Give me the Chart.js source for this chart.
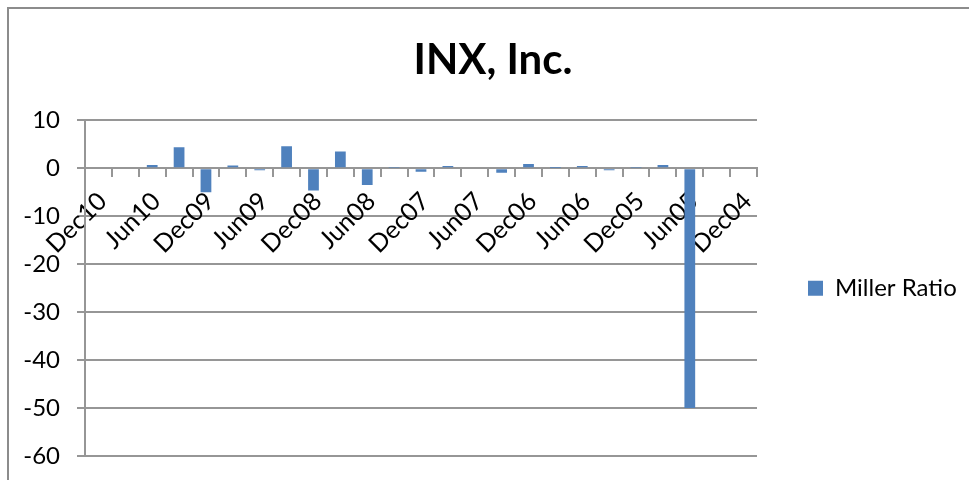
<!DOCTYPE html>
<html>
<head>
<meta charset="utf-8">
<script src="https://cdn.jsdelivr.net/npm/chart.js@4/dist/chart.umd.min.js"></script>
<style>
  html, body { margin: 0; padding: 0; background: #fff; }
  #wrap { width: 969px; height: 480px; position: relative; }
</style>
</head>
<body>
<div id="wrap"><canvas id="c" width="969" height="480"></canvas></div>
<script>
const categories = ['Dec10','Sep10','Jun10','Mar10','Dec09','Sep09','Jun09','Mar09','Dec08','Sep08','Jun08','Mar08','Dec07','Sep07','Jun07','Mar07','Dec06','Sep06','Jun06','Mar06','Dec05','Sep05','Jun05','Mar05','Dec04'];
const millerRatio = [-0.2, 0, 0.7, 4.4, -5.0, 0.6, -0.4, 4.6, -4.6, 3.5, -3.5, 0.1, -0.7, 0.5, 0, -0.9, 0.9, 0.05, 0.5, -0.4, 0.1, 0.7, -50, 0, 0];
const yTicks = { min: -60, max: 10, step: 10 };
const seriesName = 'Miller Ratio';
const titleText = 'INX, Inc.';

const GRID = '#969696';
const FONT = 'Lato, "Open Sans", sans-serif';
const LEGEND_WIDTH = 211;

const framePlugin = {
  id: 'frame',
  beforeDraw(chart) {
    const ctx = chart.ctx;
    ctx.save();
    ctx.fillStyle = '#fff';
    ctx.fillRect(0, 0, chart.width, chart.height);
    ctx.strokeStyle = '#8c8c8c';
    ctx.lineWidth = 2;
    ctx.strokeRect(8, 8, 2000, 2000);
    ctx.restore();
  }
};

const legendWidthPlugin = {
  id: 'legendWidth',
  beforeLayout(chart) {
    const lg = chart.legend;
    if (lg && !lg.__patched) {
      const origFit = lg.fit;
      lg.fit = function () { origFit.call(this); this.width = LEGEND_WIDTH; };
      lg.__patched = true;
    }
  }
};

new Chart(document.getElementById('c'), {
  type: 'bar',
  data: {
    labels: categories,
    datasets: [{
      label: seriesName,
      data: millerRatio,
      backgroundColor: '#4f81bd',
      borderWidth: 0,
      barPercentage: 0.4,
      categoryPercentage: 1.0
    }]
  },
  options: {
    responsive: false,
    devicePixelRatio: 1,
    animation: false,
    layout: { padding: { left: 18, right: 1, top: 0, bottom: 24 } },
    plugins: {
      title: {
        display: true,
        text: titleText,
        color: '#000',
        font: { family: FONT, size: 42, weight: 'bold' },
        padding: { top: 35, bottom: 35 }
      },
      legend: {
        position: 'right',
        align: 'center',
        fullSize: false,
        labels: {
          color: '#000',
          font: { family: FONT, size: 24 },
          boxWidth: 15,
          boxHeight: 15,
          padding: 51
        }
      },
      tooltip: { enabled: false }
    },
    scales: {
      x: {
        position: { y: 0 },
        offset: true,
        grid: { offset: true, drawOnChartArea: false, drawTicks: true, tickLength: 8, color: GRID, lineWidth: 2 },
        border: { display: true, color: GRID, width: 2 },
        ticks: {
          autoSkip: false, maxRotation: 45, minRotation: 45, padding: 10, labelOffset: 4,
          color: '#000', font: { family: FONT, size: 25 },
          callback: (v, i) => (i % 2 === 0 ? categories[i] : '')
        },
        afterFit: s => { s.height = 0; s.paddingLeft = 0; s.paddingRight = 0; s.paddingTop = 0; s.paddingBottom = 0; }
      },
      y: {
        min: yTicks.min,
        max: yTicks.max,
        ticks: { stepSize: yTicks.step, padding: 17, color: '#000', font: { family: FONT, size: 24 } },
        grid: { color: GRID, lineWidth: 2, drawTicks: true, tickLength: 8 },
        border: { display: true, color: GRID, width: 2 },
        afterFit: s => { s.width = 67; s.paddingTop = 0; s.paddingBottom = 0; }
      }
    }
  },
  plugins: [framePlugin, legendWidthPlugin]
});
</script>
</body>
</html>
